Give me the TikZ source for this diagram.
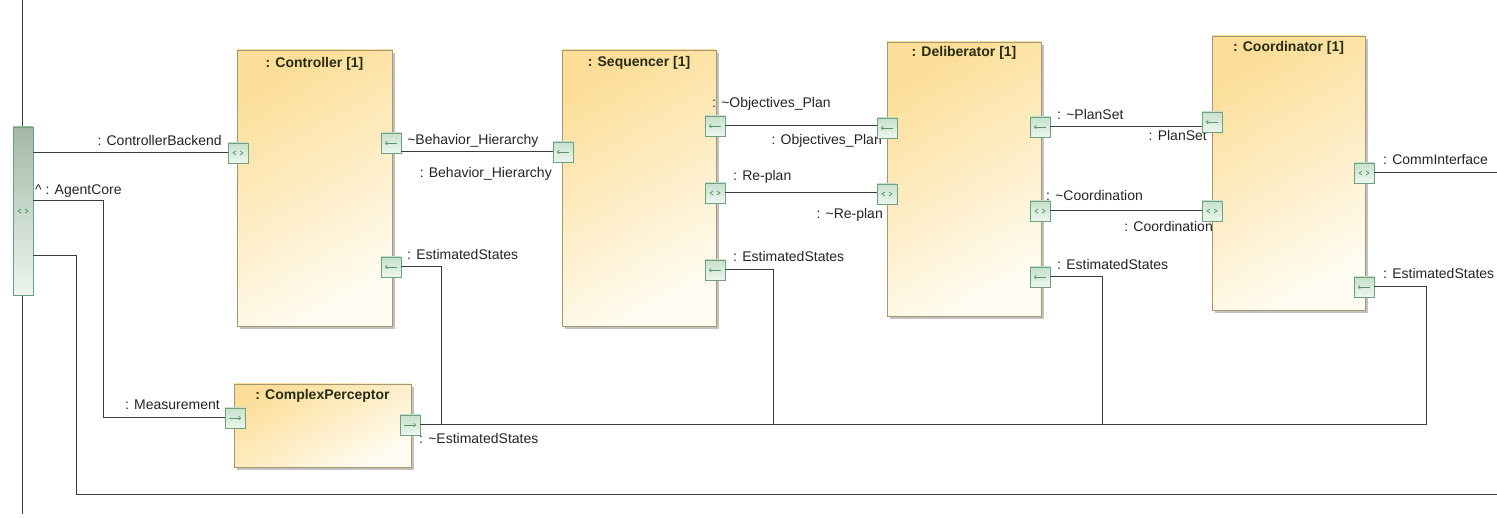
\documentclass[tikz,border=0pt]{standalone}
\usepackage{fontspec}
\setmainfont{Liberation Sans}
\usetikzlibrary{positioning,shadows,arrows.meta}

\definecolor{boxtop}{RGB}{252,222,152}
\definecolor{boxbot}{RGB}{255,252,242}
\definecolor{boxline}{RGB}{165,152,112}
\definecolor{porttop}{RGB}{198,225,204}
\definecolor{portbot}{RGB}{236,246,238}
\definecolor{portline}{RGB}{112,160,124}
\definecolor{portsign}{RGB}{88,150,104}
\definecolor{wirecol}{RGB}{60,60,60}
\definecolor{txt}{RGB}{35,35,35}
\definecolor{titletxt}{RGB}{38,44,18}

\begin{document}
\begin{tikzpicture}[x=1pt, y=-1pt]
\tikzset{
    part/.style={rectangle, draw=boxline, line width=0.9pt, top color=boxtop, bottom color=boxbot, shading angle=30,
        drop shadow={shadow xshift=3pt, shadow yshift=-3pt, fill=black!40, opacity=0.6}, inner sep=0pt},
    title/.style={font=\bfseries\fontsize{14}{16}\selectfont, text=titletxt, inner sep=0pt},
    lbl/.style={font=\fontsize{14}{16}\selectfont, text=txt, inner sep=0pt},
    wire/.style={draw=wirecol, line width=1pt},
    port/.style={rectangle, draw=portline, line width=0.8pt, top color=porttop, bottom color=portbot, minimum size=20pt, inner sep=0pt},
    portin/.style={port, path picture={\draw[portsign, line width=0.7pt, -{To[length=2.5pt,width=4pt]}]
        (path picture bounding box.center) +(6pt,0pt) -- +(-6pt,0pt);}},
    portout/.style={port, path picture={\draw[portsign, line width=0.7pt, -{To[length=2.5pt,width=4pt]}]
        (path picture bounding box.center) +(-6pt,0pt) -- +(6pt,0pt);}},
    portio/.style={port, path picture={\draw[portsign, line width=0.7pt]
        (path picture bounding box.center) +(-2pt,2pt) -- +(-5pt,0pt) -- +(-2pt,-2pt)
        +(2pt,2pt) -- +(5pt,0pt) -- +(2pt,-2pt);}},
    agentbar/.style={portio, minimum width=20pt, minimum height=168pt, top color=porttop!80!black!95, bottom color=portbot}
}
  \useasboundingbox (0,0) rectangle (1497,518);

  % frame edge and the AgentCore port
  \coordinate (frametop) at (22,0);
  \coordinate (framebot) at (22,514);
  \draw[wire] (frametop) -- (framebot);
  \node[agentbar] (agent) at (23,211) {};

  % parts
  \node[part, minimum width=155pt, minimum height=276pt] (ctrl) at (314.5,188) {};
  \node[title, below=8pt of ctrl.north] (ctrlt) {: Controller [1]};
  \node[part, minimum width=154pt, minimum height=276pt] (seq) at (639,188) {};
  \node[title, below=7pt of seq.north] (seqt) {: Sequencer [1]};
  \node[part, minimum width=154pt, minimum height=274pt] (delib) at (964,179) {};
  \node[title, below=5pt of delib.north] (delibt) {: Deliberator [1]};
  \node[part, minimum width=153pt, minimum height=274pt] (coord) at (1288.5,173) {};
  \node[title, below=6pt of coord.north] (coordt) {: Coordinator [1]};
  \node[part, minimum width=177pt, minimum height=83pt] (perc) at (322.5,425.5) {};
  \node[title, below=6pt of perc.north] (perct) {: ComplexPerceptor};

  % port labels
  \node[lbl, anchor=base east] (lcbe) at (222,146) {: ControllerBackend};
  \node[lbl, anchor=base west] (lagent) at (35,195) {\textasciicircum{} : AgentCore};
  \node[lbl, anchor=base west] (lcbh) at (398,145) {: \textasciitilde Behavior\_Hierarchy};
  \node[lbl, anchor=base east] (lsbh) at (552,178) {: Behavior\_Hierarchy};
  \node[lbl, anchor=base west] (lces) at (407,260) {: EstimatedStates};
  \node[lbl, anchor=base west] (lsop) at (712,108) {: \textasciitilde Objectives\_Plan};
  \node[lbl, anchor=base east] (ldop) at (882,145) {: Objectives\_Plan};
  \node[lbl, anchor=base west] (lsrp) at (733,181) {: Re-plan};
  \node[lbl, anchor=base east] (ldrp) at (883,219) {: \textasciitilde Re-plan};
  \node[lbl, anchor=base west] (lses) at (733,262) {: EstimatedStates};
  \node[lbl, anchor=base west] (ldps) at (1057,120) {: \textasciitilde PlanSet};
  \node[lbl, anchor=base east] (lcps) at (1207,141) {: PlanSet};
  \node[lbl, anchor=base west] (ldco) at (1046,201) {: \textasciitilde Coordination};
  \node[lbl, anchor=base east] (lcco) at (1213,232) {: Coordination};
  \node[lbl, anchor=base west] (ldes) at (1057,270) {: EstimatedStates};
  \node[lbl, anchor=base west] (lcci) at (1383,165) {: CommInterface};
  \node[lbl, anchor=base west] (lcoes) at (1383,279) {: EstimatedStates};
  \node[lbl, anchor=base east] (lpme) at (220,410) {: Measurement};
  \node[lbl, anchor=base west] (lpes) at (419,443) {: \textasciitilde EstimatedStates};

  % ports
  \node[portio] (cbe) at (238,153) {};
  \node[portin] (cbh) at (391,143) {};
  \node[portin] (ces) at (391,267) {};
  \node[portin] (sbh) at (563,152) {};
  \node[portin] (sop) at (715,126) {};
  \node[portio] (srp) at (715,193) {};
  \node[portin] (ses) at (715,270) {};
  \node[portin] (dop) at (887,128) {};
  \node[portio] (drp) at (887,194) {};
  \node[portin] (dps) at (1040,127) {};
  \node[portio] (dco) at (1040,211) {};
  \node[portin] (des) at (1040,277) {};
  \node[portin] (cps) at (1212,122) {};
  \node[portio] (cco) at (1212,211) {};
  \node[portio] (cci) at (1364,173) {};
  \node[portin] (coes) at (1364,287) {};
  \node[portout] (pme) at (235,418) {};
  \node[portout] (pes) at (410,425) {};

  % connectors
  \coordinate (corebend) at (103,201);
  \coordinate (lowbend) at (76,256);
  \coordinate (lowend) at (1497,494);
  \coordinate (commend) at (1497,173);
  \coordinate (j1) at (441,425);
  \coordinate (j2) at (773,425);
  \coordinate (j3) at (1102,425);
  \coordinate (j4) at (1426,425);
  \draw[wire] (agent.east |- cbe) -- (cbe.west);
  \draw[wire] (agent.east |- corebend) -- (corebend) |- (pme.west);
  \draw[wire] (agent.east |- lowbend) -- (lowbend) |- (lowend);
  \draw[wire] (cbh.east |- sbh) -- (sbh.west);
  \draw[wire] (sop.east) -- (dop.west |- sop);
  \draw[wire] (srp.east) -- (drp.west |- srp);
  \draw[wire] (dps.east) -- (cps.west |- dps);
  \draw[wire] (dco.east) -- (cco.west);
  \draw[wire] (cci.east) -- (commend);
  \draw[wire] (ces.east) -| (j1);
  \draw[wire] (ses.east) -| (j2);
  \draw[wire] (des.east) -| (j3);
  \draw[wire] (coes.east) -| (j4);
  \draw[wire] (pes.east) -- (j4);
\end{tikzpicture}
\end{document}
